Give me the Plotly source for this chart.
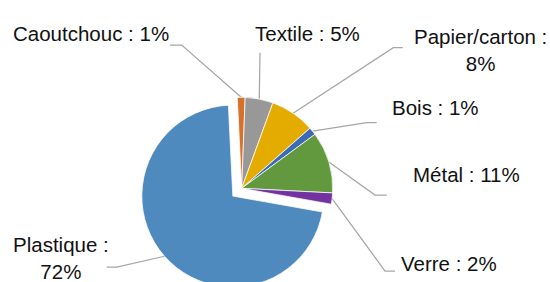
import math
import plotly.graph_objects as go

# ---- data ----
labels = ["Caoutchouc", "Textile", "Papier/carton", "Bois", "Métal", "Verre", "Plastique"]
values = [1.4, 5, 8, 1.4, 11, 2, 72]
pct_text = ["1%", "5%", "8%", "1%", "11%", "2%", "72%"]
label_break = [False, False, True, False, False, False, True]

# ---- styles / layout constants ----
colors = ["#D6712A", "#989898", "#E5AC00", "#3D6AB7", "#62993E", "#7232A0", "#4F8ABE"]
pulls = [0, 0, 0, 0, 0, 0, 0.13]
W, H = 550, 300
CX, CY, R = 241.7, 188.3, 91.0
ROT = -2.8
FONT = "Liberation Sans, Arial, sans-serif"
FS = 20.5
TXT = "#111111"
LINE = "#A6A6A6"

# label centres (px) and leader-line elbow / end points (px)
label_pos = [(91, 33), (307, 33.5), (480.5, 49.8), (435.3, 107.5),
             (466.7, 174.7), (448.8, 263.8), (60.5, 258.3)]
leader_pts = [
    [(181.7, 45.0), (170.0, 45.0)],
    [(260.0, 52.7)],
    [(393.3, 47.7), (402.7, 47.7)],
    [(366.7, 122.7), (376.7, 122.7)],
    [(375.0, 195.0), (386.7, 195.0)],
    [(385.0, 271.0), (395.0, 271.0)],
    [(116.7, 267.0), (106.7, 267.0)],
]

maxpull = max(pulls)
S = 2 * R * (1 + maxpull)
dom_x = [(CX - S / 2) / W, (CX + S / 2) / W]
dom_y = [1 - (CY + S / 2) / H, 1 - (CY - S / 2) / H]

fig = go.Figure()
fig.add_trace(go.Pie(
    labels=labels, values=values, sort=False, direction="clockwise",
    rotation=ROT, pull=pulls, textinfo="none", showlegend=False,
    marker=dict(colors=colors, line=dict(color="white", width=0.75)),
    domain=dict(x=dom_x, y=dom_y),
))

total = sum(values)
cum = 0
annotations = []
for i, v in enumerate(values):
    m = (cum + v / 2) / total
    cum += v
    th = math.radians(ROT + 360 * m)
    rr = R * (1 + pulls[i])
    ax, ay = CX + rr * math.sin(th), CY - rr * math.cos(th)
    pts = [(ax, ay)] + leader_pts[i]
    fig.add_trace(go.Scatter(
        x=[p[0] for p in pts], y=[p[1] for p in pts], mode="lines",
        line=dict(color=LINE, width=1.25), hoverinfo="skip", showlegend=False,
    ))
    sep = " :<br>" if label_break[i] else " : "
    annotations.append(dict(
        x=label_pos[i][0], y=label_pos[i][1], xref="x", yref="y",
        text=labels[i] + sep + pct_text[i], showarrow=False,
        xanchor="center", yanchor="middle", align="center",
        font=dict(family=FONT, size=FS, color=TXT),
    ))

fig.update_layout(
    width=W, height=H, margin=dict(l=0, r=0, t=0, b=0),
    paper_bgcolor="white", plot_bgcolor="rgba(0,0,0,0)",
    xaxis=dict(range=[0, W], visible=False, fixedrange=True),
    yaxis=dict(range=[H, 0], visible=False, fixedrange=True),
    annotations=annotations, showlegend=False,
)

fig.write_html(
    "out.html",
    config={"displayModeBar": False},
    post_script="document.body.style.margin='0';document.body.style.overflow='hidden';",
)
